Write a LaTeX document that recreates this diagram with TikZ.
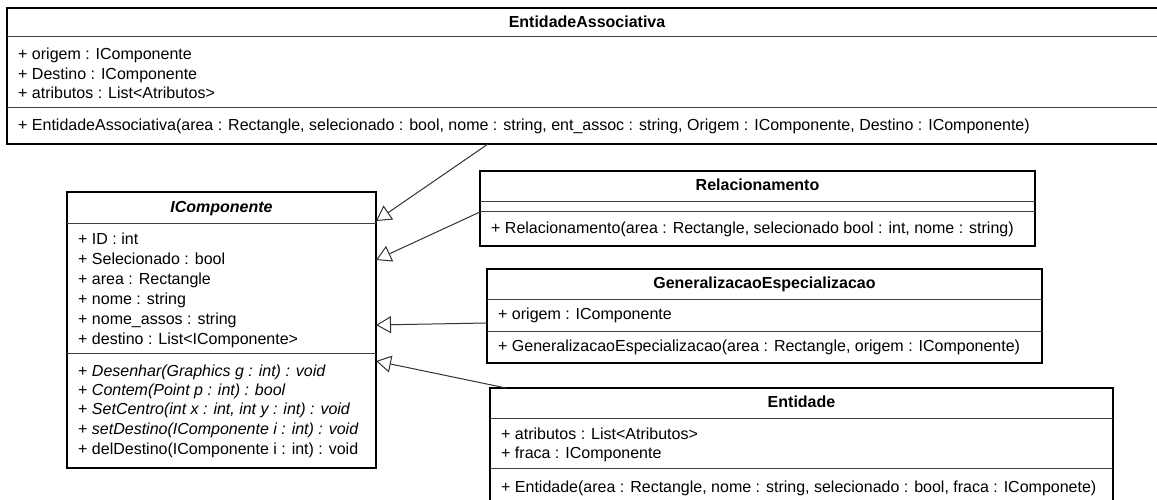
\documentclass[tikz,border=0pt]{standalone}
\usepackage{fontspec}
\setmainfont{Liberation Sans}
\usetikzlibrary{arrows.meta,calc}

\tikzset{
  classbox/.style={draw=black, line width=2pt, inner sep=0pt, outer sep=0pt, anchor=north west},
  divider/.style={draw=black!75, line width=1pt},
  member/.style={anchor=west, inner sep=0pt, text height=11.5pt, text depth=3.4pt, font=\fontsize{16}{19}\selectfont},
  classname/.style={member, anchor=center, font=\fontsize{16}{19}\selectfont\bfseries},
  inherits/.style={draw=black!80, line width=1pt, -{Triangle[open, fill=white, length=15pt, width=17pt]}},
}

\begin{document}
\begin{tikzpicture}[x=1pt,y=-1pt]
    \useasboundingbox (0,0) rectangle (1157,500);
    \clip (0,0) rectangle (1157,500);

    % EntidadeAssociativa
    \node[classbox, minimum width=1160pt, minimum height=136pt] (assoc) at (7,8) {};
    \draw[divider] ($(assoc.north west)+(0,29)$) -- ($(assoc.north east)+(0,29)$);
    \draw[divider] ($(assoc.north west)+(0,100)$) -- ($(assoc.north east)+(0,100)$);
    \node[classname] (assocname) at ($(assoc.north)+(0,15)$) {EntidadeAssociativa};
    \node[member] (assoca1) at (18,55) {+ origem : IComponente};
    \node[member] (assoca2) at (18,75) {+ Destino : IComponente};
    \node[member] (assoca3) at (18,94) {+ atributos : List<Atributos>};
    \node[member] (assocm1) at (18,126) {+ EntidadeAssociativa(area : Rectangle, selecionado : bool, nome : string, ent\_assoc : string, Origem : IComponente, Destino : IComponente)};

    % IComponente
    \node[classbox, minimum width=309pt, minimum height=276pt] (icomp) at (67,192) {};
    \draw[divider] ($(icomp.north west)+(0,31)$) -- ($(icomp.north east)+(0,31)$);
    \draw[divider] ($(icomp.north west)+(0,161)$) -- ($(icomp.north east)+(0,161)$);
    \node[classname] (icompname) at ($(icomp.north)+(0,16)$) {\itshape IComponente};
    \node[member] (icompa1) at (78,240) {+ ID : int};
    \node[member] (icompa2) at (78,260) {+ Selecionado : bool};
    \node[member] (icompa3) at (78,280) {+ area : Rectangle};
    \node[member] (icompa4) at (78,300) {+ nome : string};
    \node[member] (icompa5) at (78,320) {+ nome\_assos : string};
    \node[member] (icompa6) at (78,340) {+ destino : List<IComponente>};
    \node[member] (icompm1) at (78,372) {+ \itshape Desenhar(Graphics g : int) : void};
    \node[member] (icompm2) at (78,391) {+ \itshape Contem(Point p : int) : bool};
    \node[member] (icompm3) at (78,410) {+ \itshape SetCentro(int x : int, int y : int) : void};
    \node[member] (icompm4) at (78,430) {+ \itshape setDestino(IComponente i : int) : void};
    \node[member] (icompm5) at (78,450) {+ delDestino(IComponente i : int) : void};

    % Relacionamento
    \node[classbox, minimum width=555pt, minimum height=75pt] (rel) at (480,171) {};
    \draw[divider] ($(rel.north west)+(0,30)$) -- ($(rel.north east)+(0,30)$);
    \draw[divider] ($(rel.north west)+(0,40)$) -- ($(rel.north east)+(0,40)$);
    \node[classname] (relname) at ($(rel.north)+(0,15)$) {Relacionamento};
    \node[member] (relm1) at (491,229) {+ Relacionamento(area : Rectangle, selecionado bool : int, nome : string)};

    % GeneralizacaoEspecializacao
    \node[classbox, minimum width=555pt, minimum height=94pt] (gen) at (487,269) {};
    \draw[divider] ($(gen.north west)+(0,30)$) -- ($(gen.north east)+(0,30)$);
    \draw[divider] ($(gen.north west)+(0,62)$) -- ($(gen.north east)+(0,62)$);
    \node[classname] (genname) at ($(gen.north)+(0,15)$) {GeneralizacaoEspecializacao};
    \node[member] (gena1) at (498,315) {+ origem : IComponente};
    \node[member] (genm1) at (498,347) {+ GeneralizacaoEspecializacao(area : Rectangle, origem : IComponente)};

    % Entidade
    \node[classbox, minimum width=623pt, minimum height=120pt] (ent) at (490,388) {};
    \draw[divider] ($(ent.north west)+(0,30)$) -- ($(ent.north east)+(0,30)$);
    \draw[divider] ($(ent.north west)+(0,80)$) -- ($(ent.north east)+(0,80)$);
    \node[classname] (entname) at ($(ent.north)+(0,15)$) {Entidade};
    \node[member] (enta1) at (501,435) {+ atributos : List<Atributos>};
    \node[member] (enta2) at (501,454) {+ fraca : IComponente};
    \node[member] (entm1) at (501,488) {+ Entidade(area : Rectangle, nome : string, selecionado : bool, fraca : IComponete)};

    % generalizations
    \draw[inherits] ($(assoc.south west)+(481,0)$) -- ($(icomp.north east)+(0,29)$);
    \draw[inherits] ($(rel.north west)+(0,41)$) -- ($(icomp.north east)+(0,68)$);
    \draw[inherits] ($(gen.north west)+(0,54)$) -- ($(icomp.north east)+(0,133)$);
    \draw[inherits] ($(ent.north west)+(16,0)$) -- ($(icomp.north east)+(0,169)$);
\end{tikzpicture}
\end{document}
